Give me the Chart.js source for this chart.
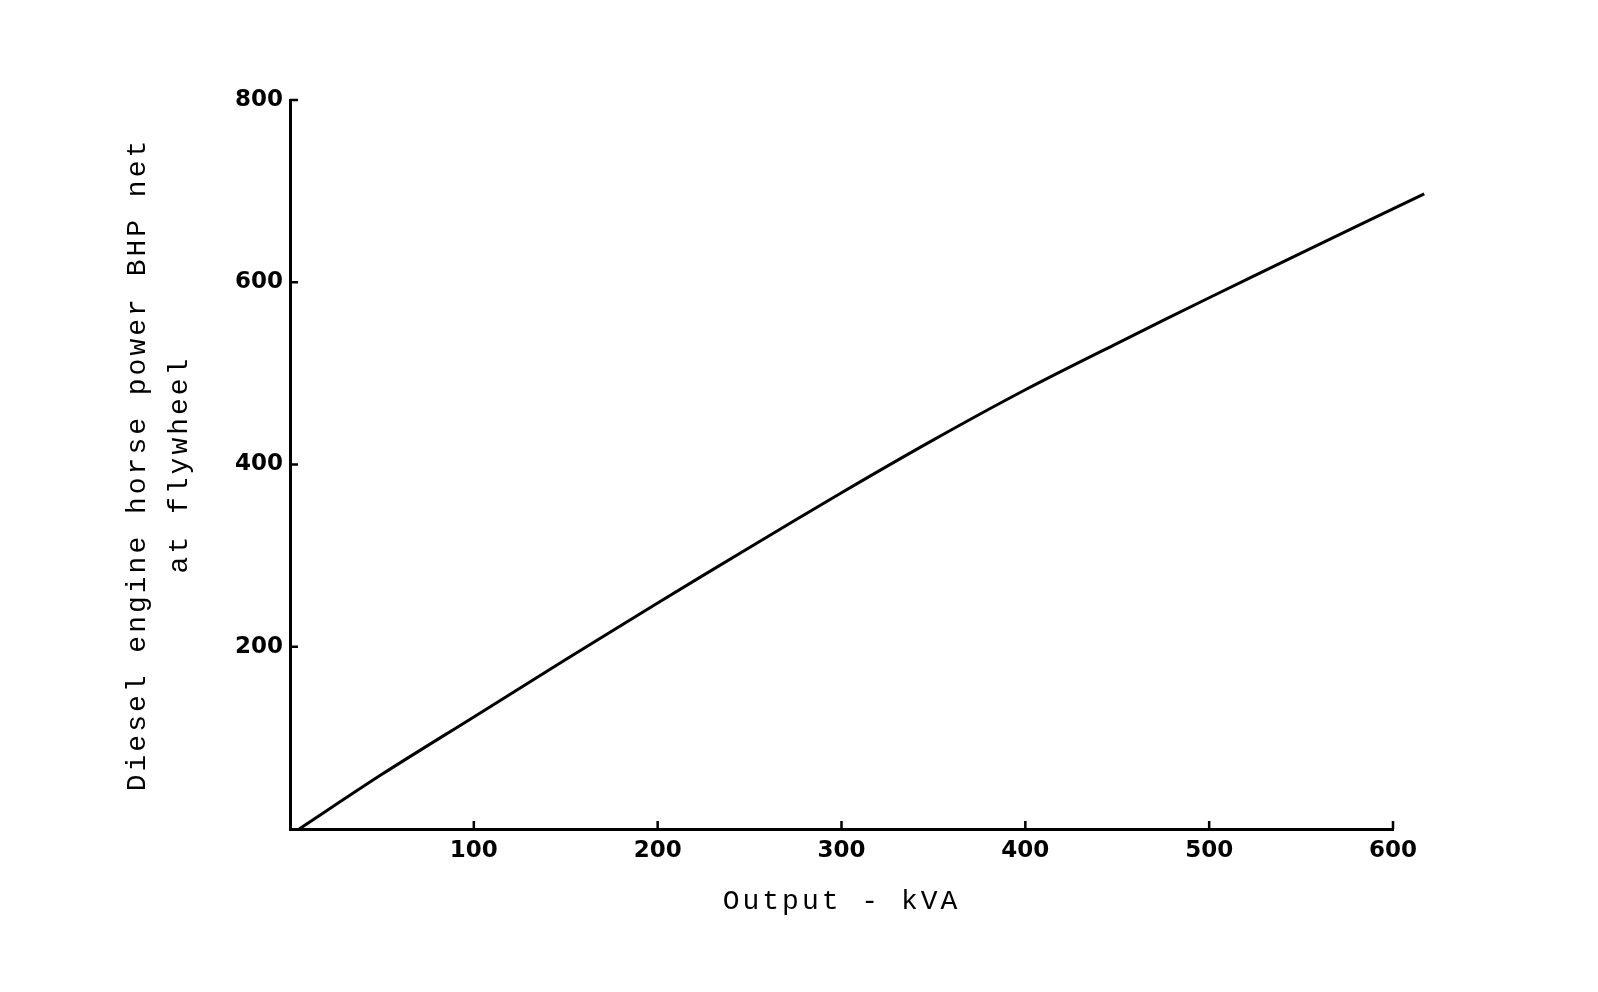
<!DOCTYPE html>
<html>
<head>
<meta charset="utf-8">
<title>Diesel engine horse power vs output</title>
<script src="https://cdn.jsdelivr.net/npm/chart.js@4.4.1/dist/chart.umd.min.js"></script>
<style>
  html, body { margin: 0; padding: 0; background: #fff; }
  #wrap { width: 1598px; height: 992px; }
</style>
</head>
<body>
<div id="wrap"><canvas id="chart-power"></canvas></div>
<script>
// ─── Data ────────────────────────────────────────────────────────────────────
const outputKva = [5, 50, 100, 150, 200, 250, 300, 350, 400, 450, 500, 550, 617];
const engineBhp = [0, 60, 123, 186, 248, 309, 369, 427, 482, 533, 583, 632, 697];
const xTicks = [100, 200, 300, 400, 500, 600];
const yTicks = [200, 400, 600, 800];

const xTitle = 'Output - kVA';
const yTitle = ['Diesel engine horse power BHP net', 'at flywheel'];

// typewriter axis titles are widely spaced
const baseDrawTitle = Chart.Scale.prototype.drawTitle;
Chart.Scale.prototype.drawTitle = function () {
  this.ctx.save();
  this.ctx.letterSpacing = '3px';
  baseDrawTitle.call(this);
  this.ctx.restore();
};

// short tick marks pointing into the plot, like the drawing
const inwardTicks = {
  id: 'inwardTicks',
  afterDraw(chart) {
    const { ctx, scales: { x, y } } = chart;
    ctx.save();
    ctx.strokeStyle = '#000';
    ctx.lineWidth = 2.5;
    ctx.beginPath();
    xTicks.forEach(v => {
      const px = x.getPixelForValue(v);
      ctx.moveTo(px, x.top);
      ctx.lineTo(px, x.top - 8);
    });
    yTicks.forEach(v => {
      const py = y.getPixelForValue(v);
      ctx.moveTo(y.right, py);
      ctx.lineTo(y.right + 8, py);
    });
    ctx.stroke();
    ctx.restore();
  }
};

const tickFont = { family: 'DejaVu Sans', size: 23, weight: 'bold' };
const titleFamily = '"Liberation Mono", "Courier New", monospace';

new Chart(document.getElementById('chart-power'), {
  type: 'line',
  data: {
    datasets: [{
      data: outputKva.map((x, i) => ({ x, y: engineBhp[i] })),
      borderColor: '#000',
      borderWidth: 3,
      pointRadius: 0,
      tension: 0.3,
      clip: false,
      fill: false,
    }]
  },
  options: {
    responsive: true,
    maintainAspectRatio: false,
    animation: false,
    layout: { padding: { left: 0, top: 100, right: 205, bottom: 0 } },
    plugins: { legend: { display: false }, tooltip: { enabled: false } },
    scales: {
      x: {
        type: 'linear',
        min: 0,
        max: 600,
        afterFit: s => { s.height = 163; },
        afterBuildTicks: s => { s.ticks = [0, ...xTicks].map(v => ({ value: v })); },
        ticks: {
          color: '#000',
          font: tickFont,
          padding: 8,
          maxRotation: 0,
          callback: v => (xTicks.includes(v) ? String(v) : ''),
        },
        grid: { display: false, drawTicks: false },
        border: { color: '#000', width: 3 },
        title: {
          display: true,
          text: xTitle,
          color: '#000',
          font: { family: titleFamily, size: 28, lineHeight: 1.2 },
          padding: { top: 0, bottom: 74 },
        },
      },
      y: {
        type: 'linear',
        min: 0,
        max: 800,
        afterFit: s => { s.width = 290; },
        afterBuildTicks: s => { s.ticks = [0, ...yTicks].map(v => ({ value: v })); },
        ticks: {
          color: '#000',
          font: tickFont,
          padding: 7,
          callback: v => (yTicks.includes(v) ? String(v) : ''),
        },
        grid: { display: false, drawTicks: false },
        border: { color: '#000', width: 3 },
        title: {
          display: true,
          text: yTitle,
          color: '#000',
          font: { family: titleFamily, size: 28, lineHeight: 42 / 28 },
          padding: { top: 117, bottom: 0 },
        },
      }
    }
  },
  plugins: [inwardTicks]
});
</script>
</body>
</html>
